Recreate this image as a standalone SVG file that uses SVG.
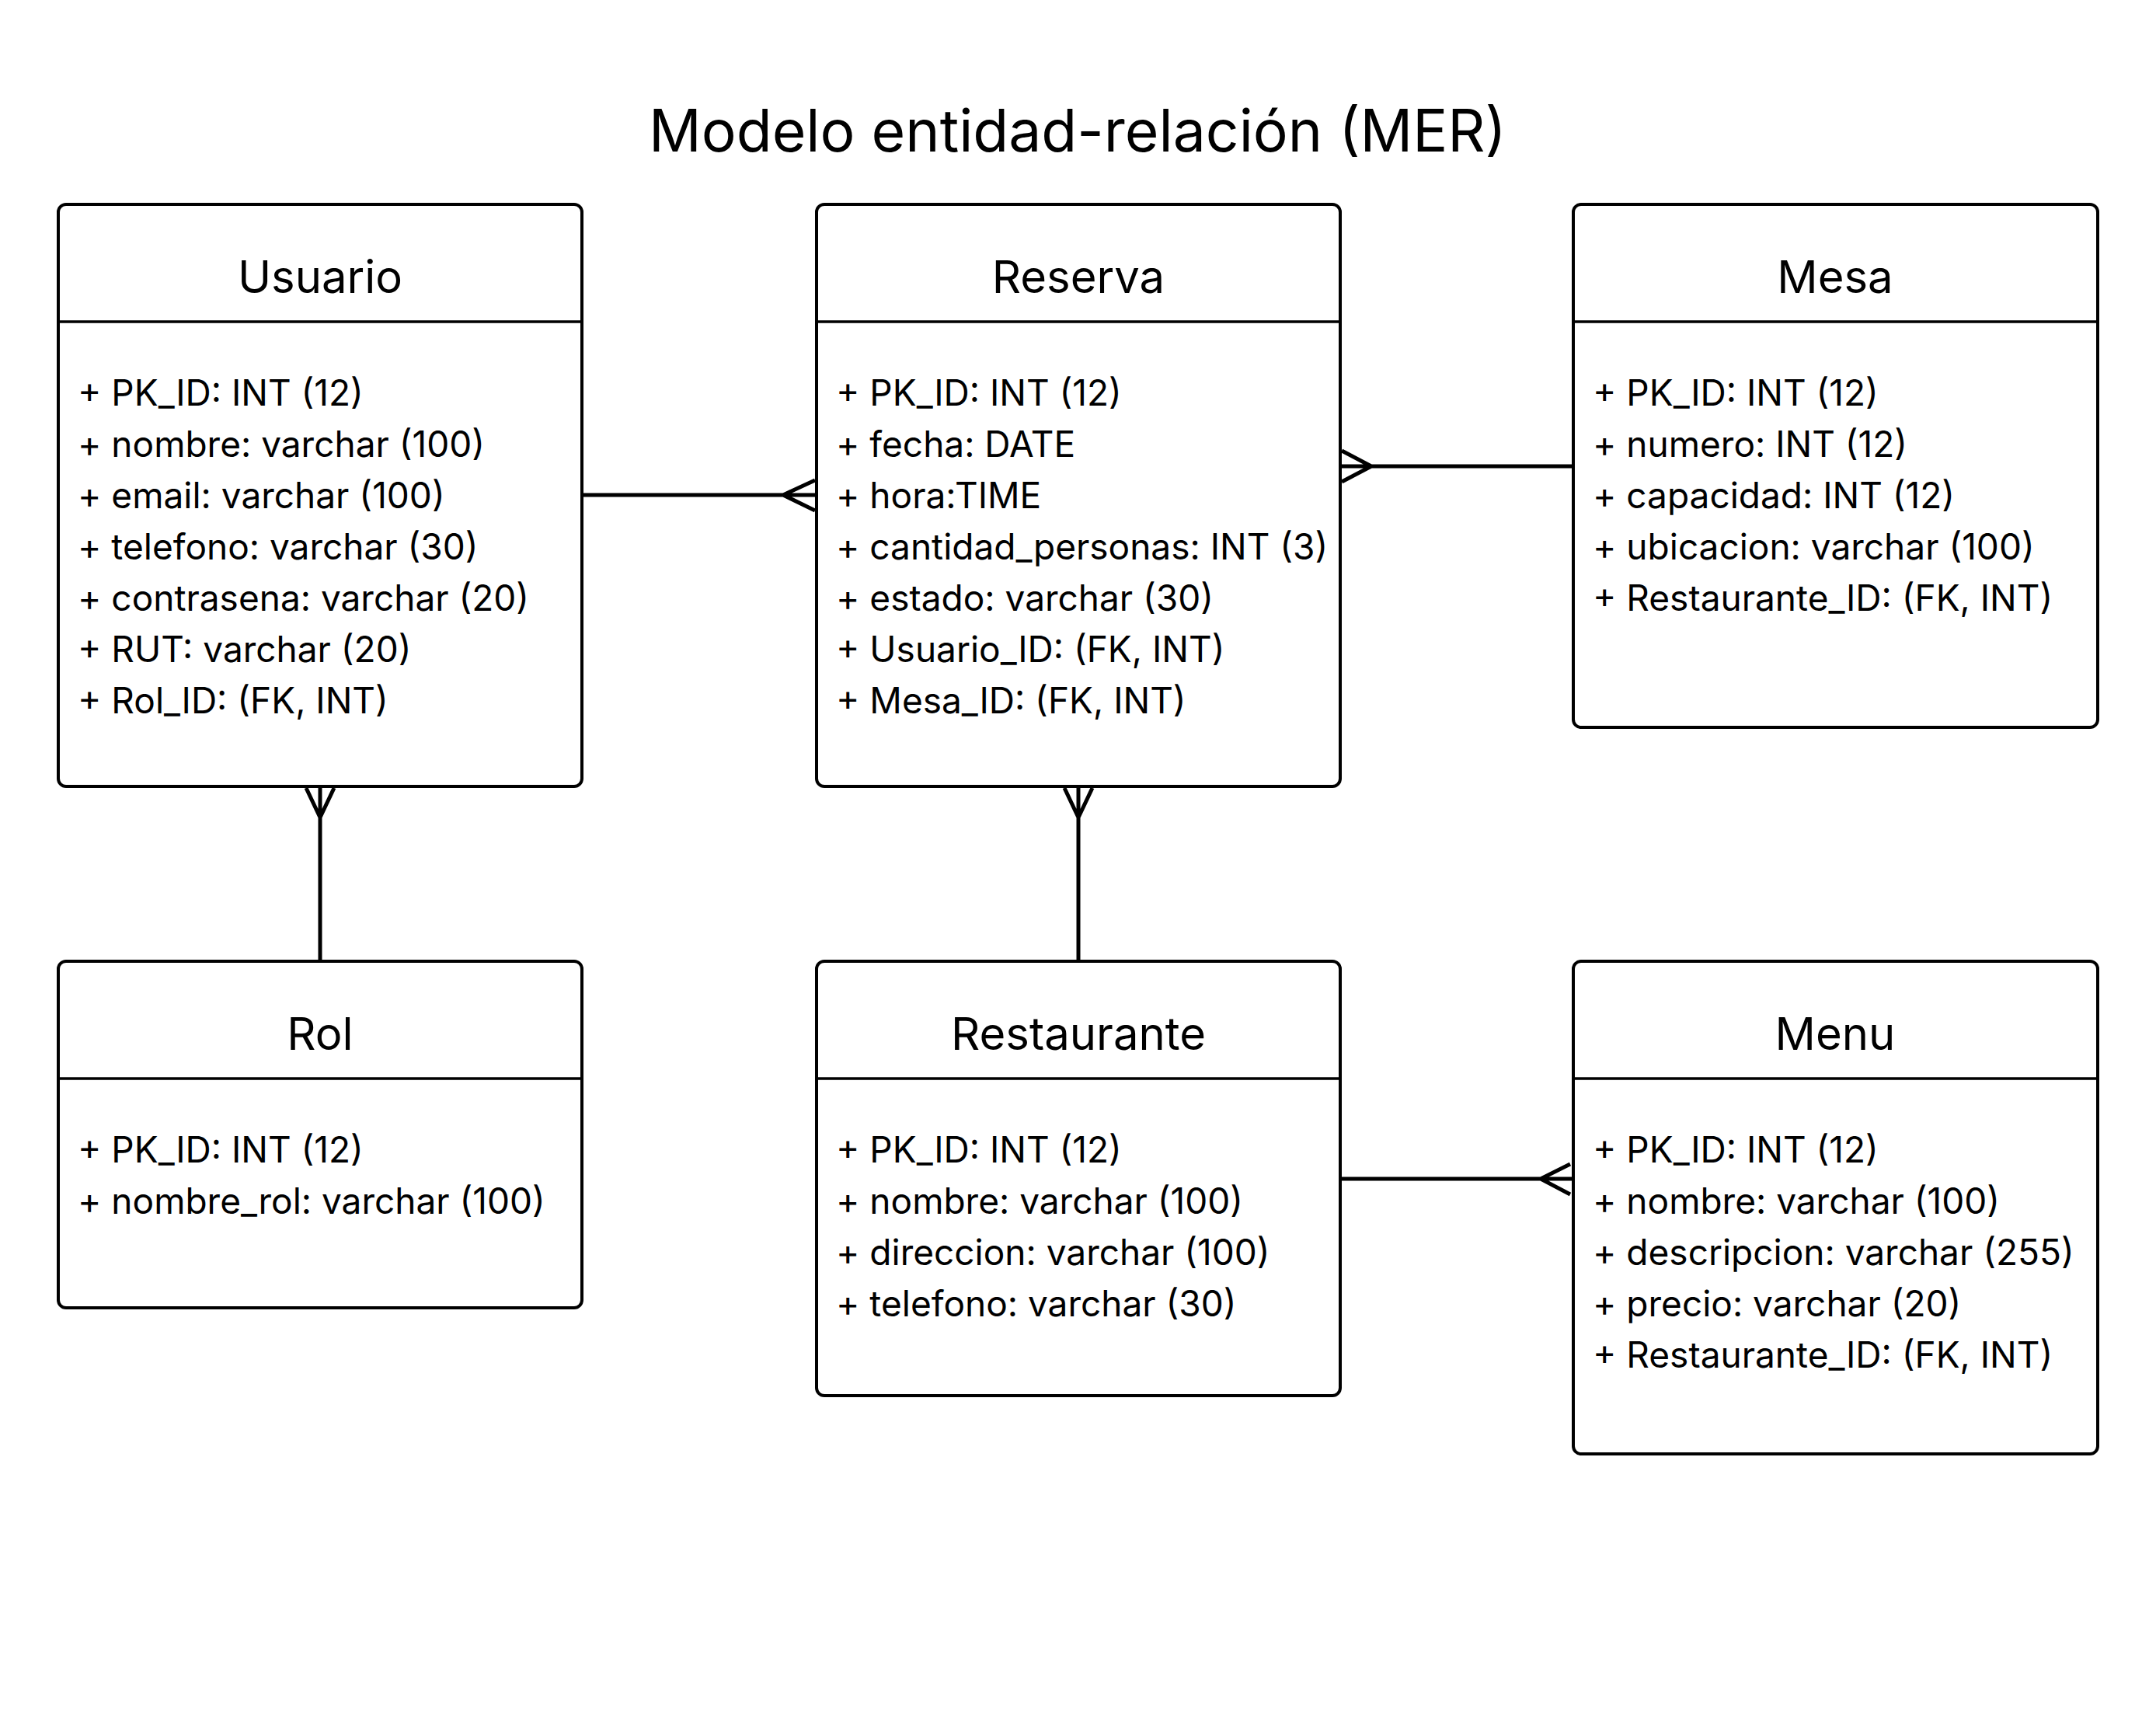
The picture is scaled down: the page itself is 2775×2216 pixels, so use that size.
<svg xmlns="http://www.w3.org/2000/svg" width="2775" height="2216" viewBox="0 0 2775 2216">
<style>
.box{fill:#fff;stroke:#000;stroke-width:4}
.div{stroke:#000;stroke-width:3.5}
.hdr{font-family:Inter,"Noto Sans",sans-serif;font-size:58px;text-anchor:middle;fill:#000}
.att{font-family:Inter,"Noto Sans",sans-serif;font-size:46px;fill:#000}
.title{font-family:Inter,"Noto Sans",sans-serif;font-size:75px;text-anchor:middle;fill:#000}
.con{stroke:#000;stroke-width:5;fill:none}
</style>
<rect width="2775" height="2216" fill="#fff"/>
<text class="title" x="1387" y="195">Modelo entidad-relación (MER)</text>
<g id="connectors">
<path class="con" d="M749 637H1049M1008 637L1049 618M1008 637L1049 657"/>
<path class="con" d="M1727 600H2025M1765 600L1727 580M1765 600L1727 620"/>
<path class="con" d="M412 1014V1237M412 1052L394 1014M412 1052L430 1014"/>
<path class="con" d="M1388 1014V1237M1388 1052L1370 1014M1388 1052L1406 1014"/>
<path class="con" d="M1725 1517H2023M1983 1517L2021 1498M1983 1517L2021 1537"/>
</g>
<g id="usuario">
<rect class="box" x="75" y="263" width="674" height="749" rx="10"/>
<line class="div" x1="75" y1="414" x2="749" y2="414"/>
<text class="hdr" x="412" y="377">Usuario</text>
<text class="att" x="100" y="522">+ PK_ID: INT (12)</text>
<text class="att" x="100" y="588">+ nombre: varchar (100)</text>
<text class="att" x="100" y="654">+ email: varchar (100)</text>
<text class="att" x="100" y="720">+ telefono: varchar (30)</text>
<text class="att" x="100" y="786">+ contrasena: varchar (20)</text>
<text class="att" x="100" y="852">+ RUT: varchar (20)</text>
<text class="att" x="100" y="918">+ Rol_ID: (FK, INT)</text>
</g>
<g id="reserva">
<rect class="box" x="1051" y="263" width="674" height="749" rx="10"/>
<line class="div" x1="1051" y1="414" x2="1725" y2="414"/>
<text class="hdr" x="1388" y="377">Reserva</text>
<text class="att" x="1076" y="522">+ PK_ID: INT (12)</text>
<text class="att" x="1076" y="588">+ fecha: DATE</text>
<text class="att" x="1076" y="654">+ hora:TIME</text>
<text class="att" x="1076" y="720">+ cantidad_personas: INT (3)</text>
<text class="att" x="1076" y="786">+ estado: varchar (30)</text>
<text class="att" x="1076" y="852">+ Usuario_ID: (FK, INT)</text>
<text class="att" x="1076" y="918">+ Mesa_ID: (FK, INT)</text>
</g>
<g id="mesa">
<rect class="box" x="2025" y="263" width="675" height="673" rx="10"/>
<line class="div" x1="2025" y1="414" x2="2700" y2="414"/>
<text class="hdr" x="2362" y="377">Mesa</text>
<text class="att" x="2050" y="522">+ PK_ID: INT (12)</text>
<text class="att" x="2050" y="588">+ numero: INT (12)</text>
<text class="att" x="2050" y="654">+ capacidad: INT (12)</text>
<text class="att" x="2050" y="720">+ ubicacion: varchar (100)</text>
<text class="att" x="2050" y="786">+ Restaurante_ID: (FK, INT)</text>
</g>
<g id="rol">
<rect class="box" x="75" y="1237" width="674" height="446" rx="10"/>
<line class="div" x1="75" y1="1388" x2="749" y2="1388"/>
<text class="hdr" x="412" y="1351">Rol</text>
<text class="att" x="100" y="1496">+ PK_ID: INT (12)</text>
<text class="att" x="100" y="1562">+ nombre_rol: varchar (100)</text>
</g>
<g id="restaurante">
<rect class="box" x="1051" y="1237" width="674" height="559" rx="10"/>
<line class="div" x1="1051" y1="1388" x2="1725" y2="1388"/>
<text class="hdr" x="1388" y="1351">Restaurante</text>
<text class="att" x="1076" y="1496">+ PK_ID: INT (12)</text>
<text class="att" x="1076" y="1562">+ nombre: varchar (100)</text>
<text class="att" x="1076" y="1628">+ direccion: varchar (100)</text>
<text class="att" x="1076" y="1694">+ telefono: varchar (30)</text>
</g>
<g id="menu">
<rect class="box" x="2025" y="1237" width="675" height="634" rx="10"/>
<line class="div" x1="2025" y1="1388" x2="2700" y2="1388"/>
<text class="hdr" x="2362" y="1351">Menu</text>
<text class="att" x="2050" y="1496">+ PK_ID: INT (12)</text>
<text class="att" x="2050" y="1562">+ nombre: varchar (100)</text>
<text class="att" x="2050" y="1628">+ descripcion: varchar (255)</text>
<text class="att" x="2050" y="1694">+ precio: varchar (20)</text>
<text class="att" x="2050" y="1760">+ Restaurante_ID: (FK, INT)</text>
</g>
</svg>
